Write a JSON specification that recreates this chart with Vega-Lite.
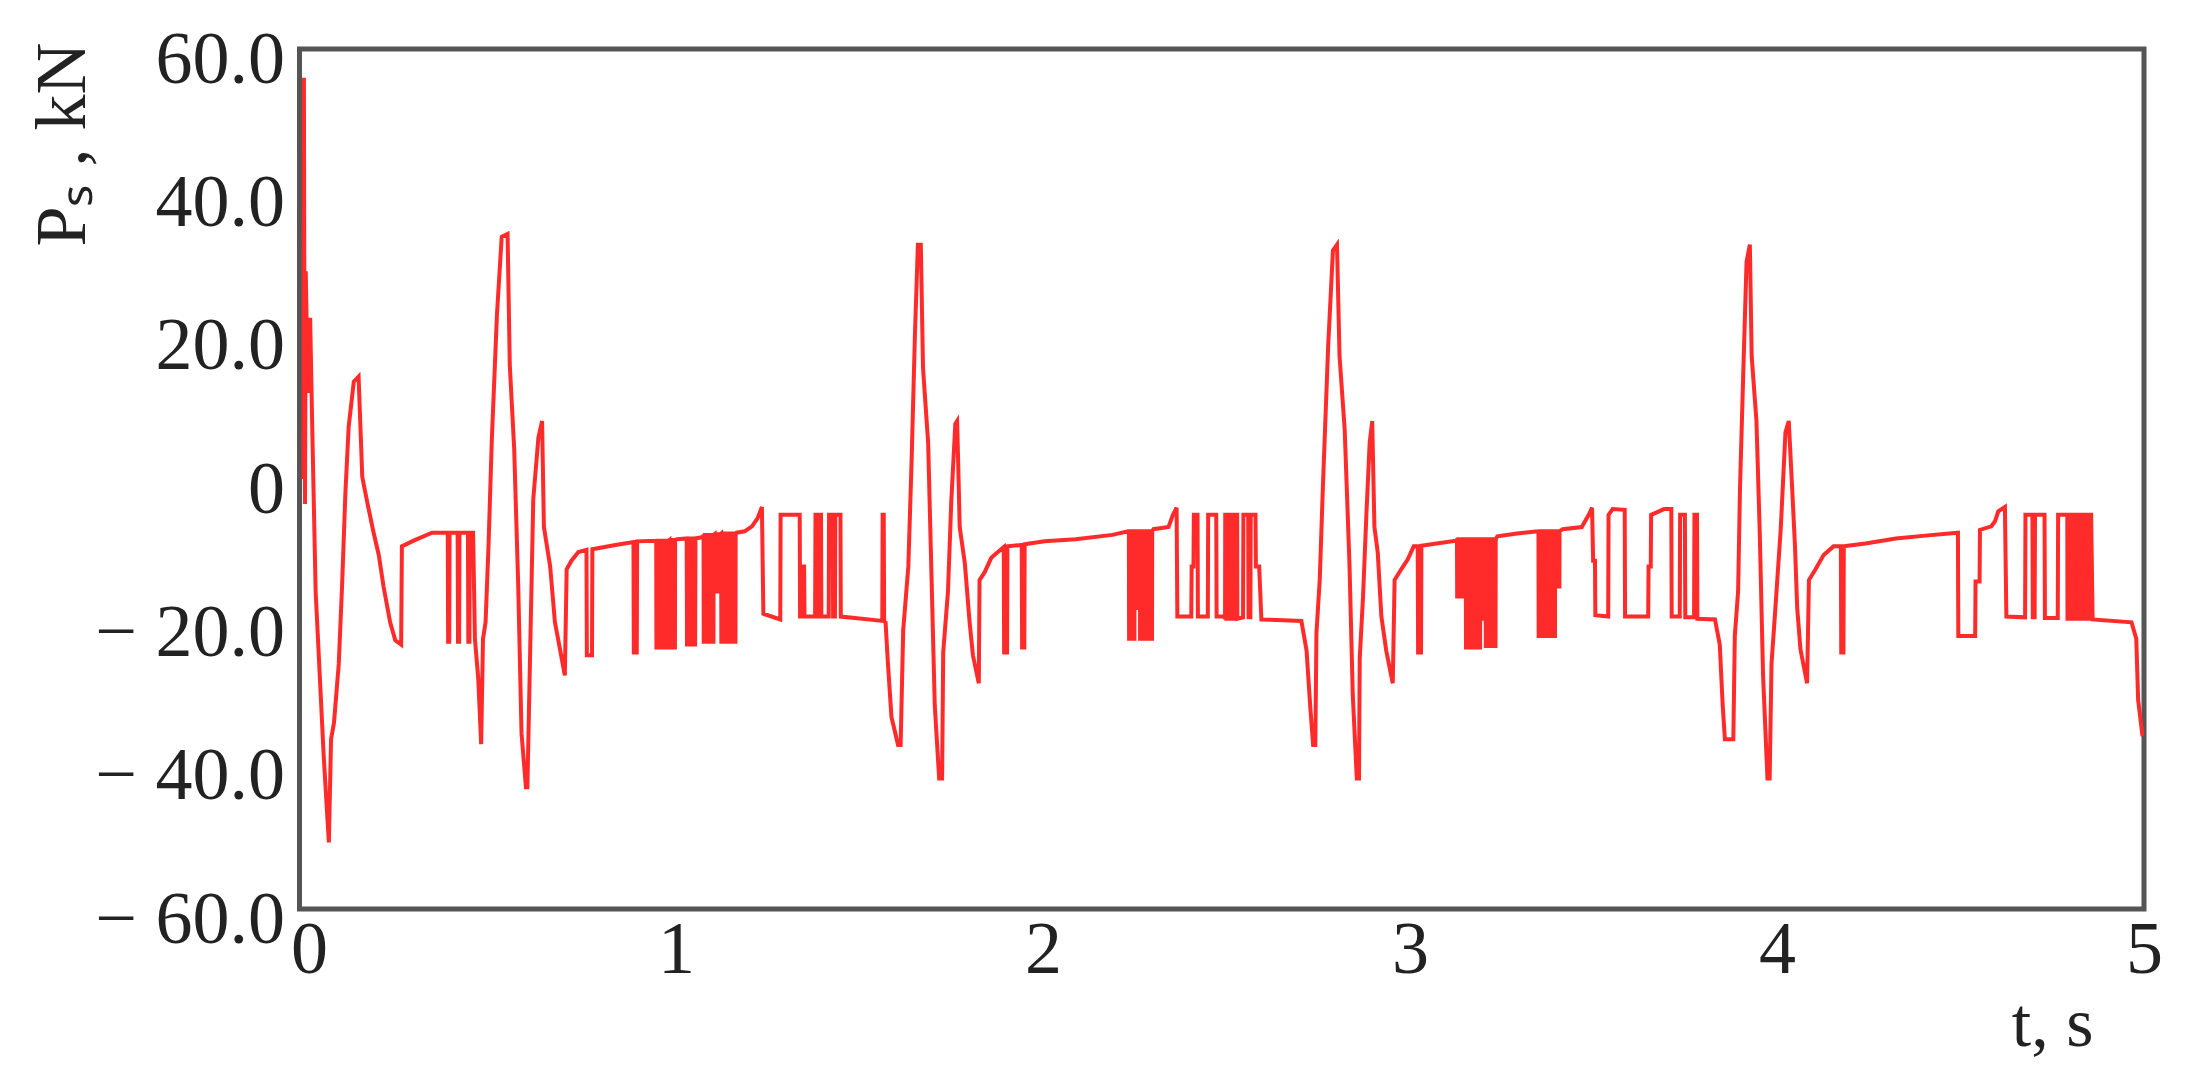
{
"$schema": "https://vega.github.io/schema/vega-lite/v6.json",
"width": 1844.5,
"height": 860,
"autosize": {"type": "none"},
"padding": {"left": 299.5, "top": 49, "right": 49, "bottom": 182},
"background": "white",
"config": {
  "view": {"stroke": "#555555", "strokeWidth": 5},
  "axis": {"labelFont": "Liberation Serif", "titleFont": "Liberation Serif", "labelColor": "#222222", "titleColor": "#222222", "grid": false, "domain": false, "ticks": false, "tickSize": 0, "titleFontWeight": "normal", "labelLimit": 0, "titleLimit": 0}
},
"data": {"values": [
{"t":-0.015,"p":0},{"t":-0.014,"p":56},{"t":-0.013,"p":30},{"t":-0.011,"p":-3.5},{"t":-0.009,"p":29},{"t":-0.003,"p":12},{"t":0.003,"p":22.5},{"t":0.009,"p":6.5},{"t":0.018,"p":-15.7},{"t":0.031,"p":-29.3},{"t":0.040,"p":-38.7},{"t":0.054,"p":-50.7},{"t":0.060,"p":-36.3},{"t":0.068,"p":-34},{"t":0.081,"p":-25.8},{"t":0.090,"p":-14.9},{"t":0.099,"p":-2},{"t":0.108,"p":7.3},{"t":0.122,"p":13.6},{"t":0.135,"p":14.3},{"t":0.145,"p":0.3},{"t":0.160,"p":-3.6},{"t":0.176,"p":-7.5},{"t":0.190,"p":-10.6},{"t":0.203,"p":-15},{"t":0.221,"p":-20},{"t":0.235,"p":-22.5},{"t":0.251,"p":-23.1},{"t":0.253,"p":-9.4},{"t":0.285,"p":-8.6},{"t":0.335,"p":-7.5},
{"t":0.378,"p":-7.5},{"t":0.379,"p":-22.7},{"t":0.382,"p":-22.7},{"t":0.383,"p":-7.5},
{"t":0.405,"p":-7.5},{"t":0.406,"p":-22.7},{"t":0.409,"p":-22.7},{"t":0.410,"p":-7.5},
{"t":0.433,"p":-7.5},{"t":0.434,"p":-22.7},{"t":0.437,"p":-22.7},{"t":0.438,"p":-7.5},
{"t":0.447,"p":-7.5},{"t":0.452,"p":-22.3},{"t":0.461,"p":-27.8},{"t":0.469,"p":-37},{"t":0.474,"p":-22.3},{"t":0.481,"p":-20},{"t":0.489,"p":-9.4},{"t":0.498,"p":5.4},{"t":0.512,"p":22.9},{"t":0.525,"p":33.8},{"t":0.541,"p":34.2},{"t":0.547,"p":15.9},{"t":0.559,"p":4.2},{"t":0.570,"p":-14.9},{"t":0.579,"p":-35.5},{"t":0.591,"p":-43},{"t":0.595,"p":-43},{"t":0.602,"p":-25.4},{"t":0.611,"p":-2.8},{"t":0.625,"p":5.8},{"t":0.635,"p":8.1},{"t":0.640,"p":-6.7},{"t":0.657,"p":-12.2},{"t":0.670,"p":-20},{"t":0.684,"p":-23.8},{"t":0.697,"p":-27.4},{"t":0.702,"p":-12.6},{"t":0.715,"p":-11.4},{"t":0.734,"p":-10.2},
{"t":0.756,"p":-9.9},{"t":0.757,"p":-24.6},{"t":0.771,"p":-24.6},{"t":0.772,"p":-9.8},
{"t":0.835,"p":-9.2},
{"t":0.884,"p":-8.8},{"t":0.885,"p":-24.2},{"t":0.893,"p":-24.2},{"t":0.894,"p":-8.7},
{"t":0.945,"p":-8.6},
{"t":0.946,"p":-8.6},{"t":0.9465,"p":-23.5},{"t":0.949,"p":-23.5},{"t":0.9495,"p":-8.6},
{"t":0.952,"p":-8.6},{"t":0.9525,"p":-23.5},{"t":0.955,"p":-23.5},{"t":0.9555,"p":-8.6},
{"t":0.958,"p":-8.6},{"t":0.9585,"p":-23.5},{"t":0.961,"p":-23.5},{"t":0.9615,"p":-8.6},
{"t":0.964,"p":-8.6},{"t":0.9645,"p":-23.5},{"t":0.967,"p":-23.5},{"t":0.9675,"p":-8.6},
{"t":0.970,"p":-8.6},{"t":0.9705,"p":-23.5},{"t":0.973,"p":-23.5},{"t":0.9735,"p":-8.6},
{"t":0.976,"p":-8.6},{"t":0.9765,"p":-23.5},{"t":0.979,"p":-23.5},{"t":0.9795,"p":-8.6},
{"t":0.982,"p":-8.5},{"t":0.9825,"p":-23.5},{"t":0.985,"p":-23.5},{"t":0.9855,"p":-8.5},
{"t":0.988,"p":-8.5},{"t":0.9885,"p":-23.5},{"t":0.991,"p":-23.5},{"t":0.9915,"p":-8.5},
{"t":0.994,"p":-8.5},{"t":0.9945,"p":-23.5},{"t":0.997,"p":-23.5},{"t":0.9975,"p":-8.5},
{"t":1.003,"p":-8.4},
{"t":1.029,"p":-8.3},{"t":1.030,"p":-23.1},{"t":1.036,"p":-23.1},{"t":1.037,"p":-8.3},{"t":1.045,"p":-8.3},{"t":1.046,"p":-23.1},{"t":1.052,"p":-23.1},{"t":1.053,"p":-8.3},
{"t":1.073,"p":-8.1},
{"t":1.075,"p":-7.8},{"t":1.0755,"p":-22.7},{"t":1.078,"p":-22.7},{"t":1.0785,"p":-7.8},
{"t":1.081,"p":-7.8},{"t":1.0815,"p":-22.7},{"t":1.084,"p":-22.7},{"t":1.0845,"p":-7.8},
{"t":1.087,"p":-7.8},{"t":1.0875,"p":-22.7},{"t":1.090,"p":-22.7},{"t":1.0905,"p":-7.8},
{"t":1.093,"p":-7.8},{"t":1.0935,"p":-22.7},{"t":1.096,"p":-22.7},{"t":1.0965,"p":-7.8},
{"t":1.099,"p":-7.8},{"t":1.0995,"p":-22.7},{"t":1.102,"p":-22.7},{"t":1.1025,"p":-7.8},
{"t":1.105,"p":-7.7},{"t":1.1055,"p":-15.7},{"t":1.108,"p":-15.7},{"t":1.1085,"p":-7.7},
{"t":1.111,"p":-7.7},{"t":1.1115,"p":-15.7},{"t":1.114,"p":-15.7},{"t":1.1145,"p":-7.7},
{"t":1.117,"p":-7.7},{"t":1.1175,"p":-15.7},{"t":1.120,"p":-15.7},{"t":1.1205,"p":-7.7},
{"t":1.123,"p":-7.6},{"t":1.1235,"p":-22.7},{"t":1.126,"p":-22.7},{"t":1.1265,"p":-7.6},
{"t":1.129,"p":-7.6},{"t":1.1295,"p":-22.7},{"t":1.132,"p":-22.7},{"t":1.1325,"p":-7.6},
{"t":1.135,"p":-7.6},{"t":1.1355,"p":-22.7},{"t":1.138,"p":-22.7},{"t":1.1385,"p":-7.6},
{"t":1.141,"p":-7.6},{"t":1.1415,"p":-22.7},{"t":1.144,"p":-22.7},{"t":1.1445,"p":-7.6},
{"t":1.147,"p":-7.6},{"t":1.1475,"p":-22.7},{"t":1.150,"p":-22.7},{"t":1.1505,"p":-7.6},
{"t":1.153,"p":-7.6},{"t":1.1535,"p":-22.7},{"t":1.156,"p":-22.7},{"t":1.1565,"p":-7.6},
{"t":1.159,"p":-7.6},{"t":1.1595,"p":-22.7},{"t":1.162,"p":-22.7},{"t":1.1625,"p":-7.6},
{"t":1.165,"p":-7.5},{"t":1.187,"p":-7.3},{"t":1.207,"p":-6.6},{"t":1.222,"p":-5.5},{"t":1.234,"p":-3.9},{"t":1.238,"p":-18.8},{"t":1.284,"p":-19.6},{"t":1.285,"p":-5},{"t":1.337,"p":-5},{"t":1.338,"p":-19.2},
{"t":1.343,"p":-19.2},{"t":1.344,"p":-12.2},{"t":1.349,"p":-12.2},{"t":1.350,"p":-19.2},
{"t":1.379,"p":-19.2},{"t":1.380,"p":-5},{"t":1.384,"p":-5},{"t":1.385,"p":-19.2},{"t":1.389,"p":-19.2},{"t":1.390,"p":-5},{"t":1.395,"p":-5},{"t":1.396,"p":-19.2},
{"t":1.416,"p":-19.2},{"t":1.417,"p":-5},{"t":1.427,"p":-5},{"t":1.428,"p":-19.2},{"t":1.433,"p":-19.2},{"t":1.434,"p":-5},{"t":1.448,"p":-5},{"t":1.449,"p":-19.2},
{"t":1.487,"p":-19.4},
{"t":1.562,"p":-19.8},{"t":1.563,"p":-5},{"t":1.566,"p":-5},{"t":1.567,"p":-19.9},
{"t":1.571,"p":-20},{"t":1.577,"p":-25.4},{"t":1.587,"p":-33.2},{"t":1.605,"p":-37.1},{"t":1.612,"p":-37.1},{"t":1.619,"p":-21.1},{"t":1.633,"p":-12.2},{"t":1.642,"p":2.7},{"t":1.651,"p":20.2},{"t":1.659,"p":32.7},{"t":1.667,"p":32.7},{"t":1.673,"p":15.5},{"t":1.687,"p":5},{"t":1.696,"p":-13.3},{"t":1.705,"p":-31.6},{"t":1.717,"p":-41.8},{"t":1.725,"p":-41.8},{"t":1.728,"p":-24.2},{"t":1.741,"p":-15.7},{"t":1.750,"p":-3.2},{"t":1.761,"p":7.7},{"t":1.766,"p":8.1},{"t":1.773,"p":-6.7},{"t":1.787,"p":-11.8},{"t":1.800,"p":-20},{"t":1.809,"p":-24.6},{"t":1.825,"p":-28.5},{"t":1.827,"p":-14.1},{"t":1.841,"p":-13},{"t":1.859,"p":-11},{"t":1.877,"p":-10.2},
{"t":1.893,"p":-9.5},{"t":1.894,"p":-24.2},{"t":1.902,"p":-24.2},{"t":1.903,"p":-9.4},
{"t":1.942,"p":-9.2},{"t":1.943,"p":-23.5},{"t":1.949,"p":-23.5},{"t":1.950,"p":-9.1},
{"t":2.004,"p":-8.7},{"t":2.089,"p":-8.4},{"t":2.189,"p":-7.8},{"t":2.232,"p":-7.3},
{"t":2.234,"p":-7.3},{"t":2.2345,"p":-22.3},{"t":2.237,"p":-22.3},{"t":2.2375,"p":-7.3},
{"t":2.240,"p":-7.3},{"t":2.2405,"p":-22.3},{"t":2.243,"p":-22.3},{"t":2.2435,"p":-7.3},
{"t":2.246,"p":-7.3},{"t":2.2465,"p":-22.3},{"t":2.249,"p":-22.3},{"t":2.2495,"p":-7.3},
{"t":2.252,"p":-7.3},{"t":2.2525,"p":-18},{"t":2.255,"p":-18},{"t":2.2555,"p":-7.3},
{"t":2.258,"p":-7.3},{"t":2.2585,"p":-18},{"t":2.261,"p":-18},{"t":2.2615,"p":-7.3},
{"t":2.264,"p":-7.3},{"t":2.2645,"p":-22.3},{"t":2.267,"p":-22.3},{"t":2.2675,"p":-7.3},
{"t":2.270,"p":-7.3},{"t":2.2705,"p":-22.3},{"t":2.273,"p":-22.3},{"t":2.2735,"p":-7.3},
{"t":2.276,"p":-7.3},{"t":2.2765,"p":-22.3},{"t":2.279,"p":-22.3},{"t":2.2795,"p":-7.3},
{"t":2.282,"p":-7.3},{"t":2.2825,"p":-18},{"t":2.285,"p":-18},{"t":2.2855,"p":-7.3},
{"t":2.288,"p":-7.3},{"t":2.2885,"p":-22.3},{"t":2.291,"p":-22.3},{"t":2.2915,"p":-7.3},
{"t":2.294,"p":-7.3},{"t":2.2945,"p":-22.3},{"t":2.297,"p":-22.3},{"t":2.2975,"p":-7.3},
{"t":2.301,"p":-7},{"t":2.342,"p":-6.7},{"t":2.354,"p":-5},{"t":2.364,"p":-4},{"t":2.366,"p":-19.2},
{"t":2.404,"p":-19.2},{"t":2.405,"p":-12.2},{"t":2.410,"p":-12.2},{"t":2.411,"p":-5},{"t":2.421,"p":-5},{"t":2.422,"p":-19.2},
{"t":2.449,"p":-19.2},{"t":2.450,"p":-5},{"t":2.472,"p":-5},{"t":2.473,"p":-19.2},
{"t":2.494,"p":-19.2},
{"t":2.496,"p":-19.5},{"t":2.4965,"p":-5},{"t":2.499,"p":-5},{"t":2.4995,"p":-19.5},
{"t":2.502,"p":-19.5},{"t":2.5025,"p":-5},{"t":2.505,"p":-5},{"t":2.5055,"p":-19.5},
{"t":2.508,"p":-19.5},{"t":2.5085,"p":-5},{"t":2.511,"p":-5},{"t":2.5115,"p":-19.5},
{"t":2.514,"p":-19.5},{"t":2.5145,"p":-5},{"t":2.517,"p":-5},{"t":2.5175,"p":-19.5},
{"t":2.520,"p":-19.5},{"t":2.5205,"p":-5},{"t":2.523,"p":-5},{"t":2.5235,"p":-19.5},
{"t":2.526,"p":-19.5},{"t":2.5265,"p":-5},{"t":2.529,"p":-5},{"t":2.5295,"p":-19.5},
{"t":2.545,"p":-19.3},{"t":2.546,"p":-5},{"t":2.559,"p":-5},{"t":2.560,"p":-19.3},{"t":2.565,"p":-19.3},{"t":2.566,"p":-5},{"t":2.579,"p":-5},{"t":2.580,"p":-12.2},{"t":2.589,"p":-12.2},{"t":2.595,"p":-19.6},
{"t":2.704,"p":-19.8},{"t":2.718,"p":-23.9},{"t":2.729,"p":-32.4},{"t":2.736,"p":-37.1},{"t":2.742,"p":-37.1},{"t":2.745,"p":-21.5},{"t":2.754,"p":-14.1},{"t":2.763,"p":-0.5},{"t":2.777,"p":18.6},{"t":2.790,"p":31.9},{"t":2.801,"p":32.7},{"t":2.808,"p":17.1},{"t":2.822,"p":6.9},{"t":2.835,"p":-11.8},{"t":2.844,"p":-30.1},{"t":2.855,"p":-41.8},{"t":2.861,"p":-41.8},{"t":2.863,"p":-25},{"t":2.872,"p":-16.4},{"t":2.881,"p":-5.1},{"t":2.890,"p":5},{"t":2.897,"p":8.1},{"t":2.903,"p":-6.7},{"t":2.912,"p":-10.2},{"t":2.922,"p":-19.2},{"t":2.935,"p":-23.9},{"t":2.953,"p":-28.5},{"t":2.958,"p":-14.1},{"t":2.976,"p":-12.6},{"t":2.994,"p":-11.2},{"t":3.010,"p":-9.4},
{"t":3.021,"p":-9.4},{"t":3.022,"p":-24.2},{"t":3.030,"p":-24.2},{"t":3.031,"p":-9.3},
{"t":3.072,"p":-9},{"t":3.126,"p":-8.6},
{"t":3.128,"p":-8.4},{"t":3.1285,"p":-16.4},{"t":3.131,"p":-16.4},{"t":3.1315,"p":-8.4},
{"t":3.134,"p":-8.4},{"t":3.1345,"p":-16.4},{"t":3.137,"p":-16.4},{"t":3.1375,"p":-8.4},
{"t":3.140,"p":-8.4},{"t":3.1405,"p":-16.4},{"t":3.143,"p":-16.4},{"t":3.1435,"p":-8.4},
{"t":3.146,"p":-8.4},{"t":3.1465,"p":-16.4},{"t":3.149,"p":-16.4},{"t":3.1495,"p":-8.4},
{"t":3.152,"p":-8.4},{"t":3.1525,"p":-23.5},{"t":3.155,"p":-23.5},{"t":3.1555,"p":-8.4},
{"t":3.158,"p":-8.4},{"t":3.1585,"p":-23.5},{"t":3.161,"p":-23.5},{"t":3.1615,"p":-8.4},
{"t":3.164,"p":-8.4},{"t":3.1645,"p":-23.5},{"t":3.167,"p":-23.5},{"t":3.1675,"p":-8.4},
{"t":3.170,"p":-8.4},{"t":3.1705,"p":-23.5},{"t":3.173,"p":-23.5},{"t":3.1735,"p":-8.4},
{"t":3.176,"p":-8.4},{"t":3.1765,"p":-23.5},{"t":3.179,"p":-23.5},{"t":3.1795,"p":-8.4},
{"t":3.182,"p":-8.4},{"t":3.1825,"p":-23.5},{"t":3.185,"p":-23.5},{"t":3.1855,"p":-8.4},
{"t":3.188,"p":-8.4},{"t":3.1885,"p":-23.5},{"t":3.191,"p":-23.5},{"t":3.1915,"p":-8.4},
{"t":3.194,"p":-8.4},{"t":3.1945,"p":-19.5},{"t":3.197,"p":-19.5},{"t":3.1975,"p":-8.4},
{"t":3.200,"p":-8.4},{"t":3.2005,"p":-19.5},{"t":3.203,"p":-19.5},{"t":3.2035,"p":-8.4},
{"t":3.206,"p":-8.4},{"t":3.2065,"p":-23.3},{"t":3.209,"p":-23.3},{"t":3.2095,"p":-8.4},
{"t":3.212,"p":-8.4},{"t":3.2125,"p":-23.3},{"t":3.215,"p":-23.3},{"t":3.2155,"p":-8.4},
{"t":3.218,"p":-8.4},{"t":3.2185,"p":-23.3},{"t":3.221,"p":-23.3},{"t":3.2215,"p":-8.4},
{"t":3.224,"p":-8.4},{"t":3.2245,"p":-23.3},{"t":3.227,"p":-23.3},{"t":3.2275,"p":-8.4},
{"t":3.230,"p":-8.4},{"t":3.2305,"p":-23.3},{"t":3.233,"p":-23.3},{"t":3.2335,"p":-8.4},
{"t":3.238,"p":-8},{"t":3.292,"p":-7.6},{"t":3.349,"p":-7.3},
{"t":3.350,"p":-7.3},{"t":3.3505,"p":-21.9},{"t":3.353,"p":-21.9},{"t":3.3535,"p":-7.3},
{"t":3.356,"p":-7.3},{"t":3.3565,"p":-21.9},{"t":3.359,"p":-21.9},{"t":3.3595,"p":-7.3},
{"t":3.362,"p":-7.3},{"t":3.3625,"p":-21.9},{"t":3.365,"p":-21.9},{"t":3.3655,"p":-7.3},
{"t":3.368,"p":-7.3},{"t":3.3685,"p":-21.9},{"t":3.371,"p":-21.9},{"t":3.3715,"p":-7.3},
{"t":3.374,"p":-7.3},{"t":3.3745,"p":-21.9},{"t":3.377,"p":-21.9},{"t":3.3775,"p":-7.3},
{"t":3.380,"p":-7.3},{"t":3.3805,"p":-21.9},{"t":3.383,"p":-21.9},{"t":3.3835,"p":-7.3},
{"t":3.386,"p":-7.3},{"t":3.3865,"p":-21.9},{"t":3.389,"p":-21.9},{"t":3.3895,"p":-7.3},
{"t":3.392,"p":-7.3},{"t":3.3925,"p":-21.9},{"t":3.395,"p":-21.9},{"t":3.3955,"p":-7.3},
{"t":3.398,"p":-7.3},{"t":3.3985,"p":-15},{"t":3.401,"p":-15},{"t":3.4015,"p":-7.3},
{"t":3.404,"p":-7.3},{"t":3.4045,"p":-15},{"t":3.407,"p":-15},{"t":3.4075,"p":-7.3},
{"t":3.416,"p":-7},{"t":3.468,"p":-6.7},{"t":3.487,"p":-5},{"t":3.496,"p":-4},{"t":3.499,"p":-11.4},{"t":3.504,"p":-11.4},{"t":3.505,"p":-19},
{"t":3.540,"p":-19.2},{"t":3.541,"p":-5},{"t":3.552,"p":-4.2},{"t":3.585,"p":-4.3},{"t":3.586,"p":-19.2},
{"t":3.649,"p":-19.2},{"t":3.650,"p":-12.2},{"t":3.656,"p":-12.2},{"t":3.657,"p":-5},{"t":3.692,"p":-4.2},
{"t":3.712,"p":-4.2},{"t":3.713,"p":-19.2},{"t":3.735,"p":-19.2},{"t":3.736,"p":-5},{"t":3.749,"p":-5},{"t":3.750,"p":-19.3},{"t":3.774,"p":-19.3},{"t":3.775,"p":-5},{"t":3.782,"p":-5},{"t":3.783,"p":-19.5},
{"t":3.831,"p":-19.6},{"t":3.844,"p":-23.1},{"t":3.852,"p":-31.6},{"t":3.858,"p":-36.3},{"t":3.881,"p":-36.3},{"t":3.885,"p":-21.9},{"t":3.894,"p":-15.7},{"t":3.899,"p":-1.6},{"t":3.908,"p":14.7},{"t":3.917,"p":30.3},{"t":3.926,"p":32.7},{"t":3.931,"p":17.1},{"t":3.944,"p":8.1},{"t":3.953,"p":-7.5},{"t":3.962,"p":-27.4},{"t":3.974,"p":-41.8},{"t":3.980,"p":-41.8},{"t":3.985,"p":-25.8},{"t":3.994,"p":-19.2},
{"t":4.010,"p":-7.1},{"t":4.023,"p":6.5},{"t":4.032,"p":8.1},{"t":4.041,"p":-1},{"t":4.049,"p":-9.4},{"t":4.055,"p":-18},{"t":4.064,"p":-23.8},{"t":4.082,"p":-28.5},{"t":4.087,"p":-14.1},{"t":4.105,"p":-12.6},{"t":4.127,"p":-10.6},{"t":4.154,"p":-9.4},
{"t":4.174,"p":-9.4},{"t":4.175,"p":-24.2},{"t":4.181,"p":-24.2},{"t":4.182,"p":-9.4},
{"t":4.241,"p":-9},{"t":4.324,"p":-8.3},{"t":4.404,"p":-7.9},{"t":4.493,"p":-7.5},{"t":4.494,"p":-21.9},
{"t":4.540,"p":-21.9},{"t":4.541,"p":-14.3},{"t":4.552,"p":-14.3},{"t":4.553,"p":-7.1},
{"t":4.584,"p":-6.6},{"t":4.594,"p":-5.9},{"t":4.603,"p":-4.5},{"t":4.621,"p":-3.9},{"t":4.625,"p":-19.2},
{"t":4.676,"p":-19.3},{"t":4.677,"p":-5},{"t":4.696,"p":-5},{"t":4.697,"p":-19.3},{"t":4.702,"p":-19.3},{"t":4.703,"p":-5},{"t":4.729,"p":-5},{"t":4.730,"p":-19.4},{"t":4.765,"p":-19.4},{"t":4.766,"p":-5},
{"t":4.789,"p":-5},
{"t":4.791,"p":-5},{"t":4.7915,"p":-19.5},{"t":4.794,"p":-19.5},{"t":4.7945,"p":-5},
{"t":4.797,"p":-5},{"t":4.7975,"p":-19.5},{"t":4.800,"p":-19.5},{"t":4.8005,"p":-5},
{"t":4.803,"p":-5},{"t":4.8035,"p":-19.5},{"t":4.806,"p":-19.5},{"t":4.8065,"p":-5},
{"t":4.809,"p":-5},{"t":4.8095,"p":-19.5},{"t":4.812,"p":-19.5},{"t":4.8125,"p":-5},
{"t":4.815,"p":-5},{"t":4.8155,"p":-19.5},{"t":4.818,"p":-19.5},{"t":4.8185,"p":-5},
{"t":4.821,"p":-5},{"t":4.8215,"p":-19.5},{"t":4.824,"p":-19.5},{"t":4.8245,"p":-5},
{"t":4.827,"p":-5},{"t":4.8275,"p":-19.5},{"t":4.830,"p":-19.5},{"t":4.8305,"p":-5},
{"t":4.833,"p":-5},{"t":4.8335,"p":-19.5},{"t":4.836,"p":-19.5},{"t":4.8365,"p":-5},
{"t":4.839,"p":-5},{"t":4.8395,"p":-19.5},{"t":4.842,"p":-19.5},{"t":4.8425,"p":-5},
{"t":4.845,"p":-5},{"t":4.8455,"p":-19.5},{"t":4.848,"p":-19.5},{"t":4.8485,"p":-5},
{"t":4.851,"p":-5},{"t":4.8515,"p":-19.5},{"t":4.854,"p":-19.5},{"t":4.8545,"p":-5},
{"t":4.856,"p":-5},{"t":4.860,"p":-19.6},{"t":4.966,"p":-20},{"t":4.979,"p":-22.3},{"t":4.984,"p":-30.8},{"t":4.996,"p":-35.9}
]},
"mark": {"type": "line", "color": "#ff2a2a", "strokeWidth": 4, "clip": true},
"encoding": {
  "x": {"field": "t", "type": "quantitative", "scale": {"domain": [-0.026, 5], "nice": false, "zero": false},
        "axis": {"title": "t, s", "values": [0,1,2,3,4,5], "format": "d", "labelFontSize": 74, "labelPadding": 5, "labelFlush": false, "labelOverlap": false,
                 "titleFontSize": 70, "titleAlign": "right", "titleBaseline": "alphabetic", "titleX": 1793.5, "titleY": 136}},
  "y": {"field": "p", "type": "quantitative", "scale": {"domain": [-60, 60], "nice": false},
        "axis": {"title": "Pₛ , kN", "values": [-60,-40,-20,0,20,40,60],
                 "labelExpr": "datum.value == 0 ? '0' : (datum.value < 0 ? '− ' + format(-datum.value, '.1f') : format(datum.value, '.1f'))",
                 "labelFontSize": 74, "labelPadding": 15, "labelOffset": 11, "labelOverlap": false,
                 "titleFontSize": 72, "titleAngle": 270, "titleAlign": "right", "titleBaseline": "alphabetic", "titleX": -215, "titleY": -7}}
}
}
